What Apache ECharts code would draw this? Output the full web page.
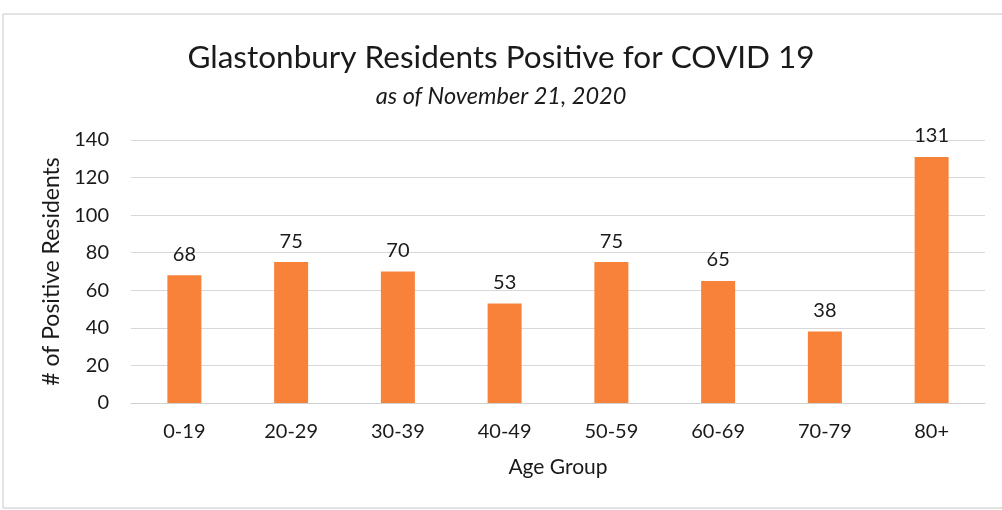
<!DOCTYPE html>
<html><head><meta charset="utf-8">
<script src="https://cdn.jsdelivr.net/npm/echarts@6/dist/echarts.min.js"></script>
<style>html,body{margin:0;padding:0;background:#fff}#c{width:1002px;height:510px}</style>
</head><body><div id="c"></div>
<script>
const categories = ['0-19','20-29','30-39','40-49','50-59','60-69','70-79','80+'];
const positives = [68, 75, 70, 53, 75, 65, 38, 131];
const yTicks = [0, 20, 40, 60, 80, 100, 120, 140];

const FONT = 'Lato, "Open Sans", sans-serif';
const chart = echarts.init(document.getElementById('c'));
chart.setOption({
  animation: false,
  backgroundColor: '#fff',
  graphic: [{
    type: 'rect', shape: {x: 3, y: 14, width: 1010, height: 494},
    style: {fill: 'none', stroke: '#c8c8c8', lineWidth: 1}, silent: true
  }],
  title: [{
    text: 'Glastonbury Residents Positive for COVID 19',
    left: 'center', top: 37,
    textStyle: {fontFamily: FONT, fontSize: 31.5, fontWeight: 'normal', color: '#1a1a1a'}
  }, {
    text: 'as of November 21, 2020',
    left: 'center', top: 80,
    textStyle: {fontFamily: FONT, fontSize: 23.5, fontStyle: 'italic', fontWeight: 'normal', color: '#1a1a1a'}
  }],
  grid: {left: 131, right: 17, top: 140, bottom: 107, containLabel: false},
  xAxis: {
    type: 'category', data: categories,
    axisLine: {show: true, lineStyle: {color: '#d0d0d0'}},
    axisTick: {show: false},
    axisLabel: {fontFamily: FONT, fontSize: 20, color: '#1a1a1a', margin: 19},
    name: 'Age Group', nameLocation: 'middle', nameGap: 54,
    nameTextStyle: {fontFamily: FONT, fontSize: 21, color: '#1a1a1a'}
  },
  yAxis: {
    type: 'value', min: yTicks[0], max: yTicks[yTicks.length - 1], interval: 20,
    axisLine: {show: false}, axisTick: {show: false},
    splitLine: {lineStyle: {color: '#d8d8d8'}},
    axisLabel: {fontFamily: FONT, fontSize: 20, color: '#1a1a1a', margin: 22},
    name: '# of Positive Residents', nameLocation: 'middle', nameGap: 61,
    nameTextStyle: {fontFamily: FONT, fontSize: 23, color: '#1a1a1a'}
  },
  series: [{
    type: 'bar', data: positives, barWidth: 34,
    itemStyle: {color: '#F8823A'},
    label: {show: true, position: 'top', distance: 11, fontFamily: FONT, fontSize: 20, color: '#1a1a1a'}
  }]
});
</script></body></html>
